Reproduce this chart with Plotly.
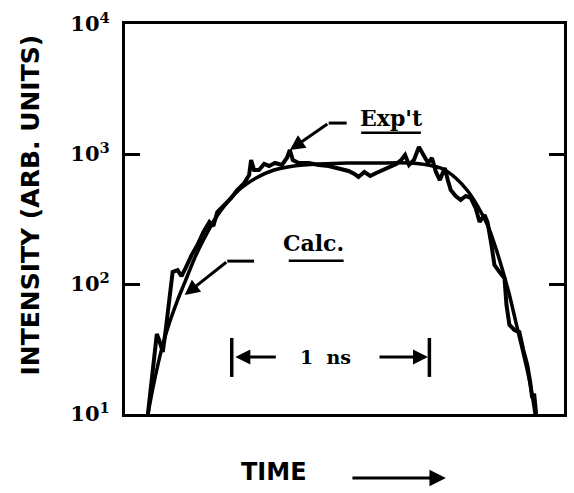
import math
import plotly.graph_objects as go

# Time in ns, intensity in arbitrary units
calc_time = [0.116, 0.141, 0.166, 0.191, 0.226, 0.266, 0.307, 0.352, 0.402, 0.452,
             0.518, 0.588, 0.663, 0.754, 0.854, 0.980, 1.131, 1.281, 1.432, 1.533,
             1.608, 1.673, 1.734, 1.784, 1.834, 1.874, 1.910, 1.945, 1.975, 2.005,
             2.035, 2.060, 2.075]
calc_intensity = [10, 15.8, 23.8, 34.0, 51.0, 75.3, 107, 158, 226, 311,
                  427, 548, 654, 753, 809, 838, 853, 853, 853, 823,
                  767, 654, 519, 398, 284, 193, 128, 82.3, 52.8, 34.0,
                  21.8, 14.0, 10]

expt_time = [0.116, 0.136, 0.161, 0.176, 0.191, 0.206, 0.226, 0.241, 0.266, 0.286,
             0.307, 0.337, 0.367, 0.397, 0.427, 0.447, 0.467, 0.503, 0.538, 0.568,
             0.603, 0.628, 0.638, 0.653, 0.678, 0.704, 0.729, 0.759, 0.794, 0.819,
             0.834, 0.849, 0.879, 0.930, 0.980, 1.030, 1.080, 1.131, 1.161, 1.181,
             1.211, 1.241, 1.271, 1.307, 1.342, 1.372, 1.397, 1.417, 1.437, 1.462,
             1.487, 1.508, 1.533, 1.553, 1.573, 1.593, 1.618, 1.633, 1.648, 1.673,
             1.698, 1.724, 1.749, 1.774, 1.794, 1.819, 1.834, 1.854, 1.869, 1.894,
             1.920, 1.930, 1.945, 1.970, 1.995, 2.015, 2.035, 2.050, 2.060, 2.070,
             2.080]
expt_intensity = [10, 18.3, 41.2, 35.8, 30.0, 44.3, 75.3, 124, 128, 115,
                  133, 167, 200, 251, 300, 279, 358, 405, 459, 528,
                  598, 689, 899, 753, 753, 838, 809, 853, 823, 932,
                  1073, 899, 853, 853, 823, 809, 780, 740, 702, 666,
                  727, 677, 714, 753, 794, 838, 899, 982, 823, 899,
                  1132, 982, 853, 932, 727, 631, 780, 631, 528, 475,
                  443, 475, 459, 384, 300, 340, 300, 200, 140, 124,
                  111, 68.9, 48.4, 44.3, 42.7, 31.1, 23.8, 17.6, 13.3, 14.3,
                  10]

y_tick_values = [10, 100, 1000, 10000]
y_tick_labels = ["10<sup>1</sup>", "10<sup>2</sup>", "10<sup>3</sup>", "10<sup>4</sup>"]

pulse_start, pulse_end = 0.54, 1.54  # the 1 ns scale bar

fig = go.Figure()
fig.add_trace(go.Scatter(x=calc_time, y=calc_intensity, mode="lines",
                         line=dict(color="black", width=3.5, shape="spline", smoothing=0.6),
                         name="Calc.", showlegend=False))
fig.add_trace(go.Scatter(x=expt_time, y=expt_intensity, mode="lines",
                         line=dict(color="black", width=4),
                         name="Exp't", showlegend=False))

serif = dict(family="DejaVu Serif", color="black", weight="bold")
heavy = dict(family="DejaVu Sans", color="black", weight="bold")
centered = dict(xanchor="center", yanchor="middle")

fig.update_layout(
    width=574, height=493,
    margin=dict(l=125, r=7, t=24, b=79),
    plot_bgcolor="white", paper_bgcolor="white",
    xaxis=dict(range=[0, 2.221], showgrid=False, zeroline=False, showticklabels=False,
               ticks="", showline=True, linecolor="black", linewidth=3, mirror=True),
    yaxis=dict(type="log", range=[1, 4], showgrid=False, zeroline=False,
               tickvals=y_tick_values, ticktext=y_tick_labels,
               ticks="inside", ticklen=15, tickwidth=3, tickcolor="black",
               showline=True, linecolor="black", linewidth=3, mirror="ticks",
               tickfont=dict(size=21, **serif), ticklabelstandoff=8),
)

# Exp't label with underline and elbow arrow to the spike
spike = expt_intensity.index(max(expt_intensity[:40]))
fig.add_annotation(x=0.606, y=0.759, xref="paper", yref="paper", text="Exp't",
                   showarrow=False, font=dict(size=22, **serif), **centered)
fig.add_shape(type="line", xref="paper", yref="paper", x0=0.538, x1=0.674, y0=0.721, y1=0.721,
              line=dict(color="black", width=2.5))
fig.add_shape(type="line", xref="paper", yref="paper", x0=0.464, x1=0.505, y0=0.746, y1=0.746,
              line=dict(color="black", width=3))
fig.add_annotation(x=expt_time[spike], y=math.log10(expt_intensity[spike]), xref="x", yref="y",
                   text="", showarrow=True, ax=39, ay=-27, arrowhead=2, arrowsize=1,
                   arrowwidth=3, arrowcolor="black", standoff=0)

# Calc. label with underline and elbow arrow
fig.add_annotation(x=0.430, y=0.438, xref="paper", yref="paper", text="Calc.",
                   showarrow=False, font=dict(size=22, **serif), **centered)
fig.add_shape(type="line", xref="paper", yref="paper", x0=0.373, x1=0.498, y0=0.393, y1=0.393,
              line=dict(color="black", width=2.5))
fig.add_shape(type="line", xref="paper", yref="paper", x0=0.233, x1=0.294, y0=0.392, y1=0.392,
              line=dict(color="black", width=3))
fig.add_annotation(x=0.136, y=0.305, xref="paper", yref="paper",
                   text="", showarrow=True, ax=43, ay=-34, arrowhead=2, arrowsize=1,
                   arrowwidth=3, arrowcolor="black", standoff=0)

# 1 ns scale bar
for xb in (pulse_start, pulse_end):
    fig.add_shape(type="line", xref="x", yref="paper", x0=xb, x1=xb, y0=0.095, y1=0.195,
                  line=dict(color="black", width=3.5))
fig.add_annotation(x=pulse_start + 0.018, y=0.146, xref="x", yref="paper", text="",
                   showarrow=True, ax=42, ay=0, arrowhead=2, arrowsize=1, arrowwidth=3,
                   arrowcolor="black", standoff=0)
fig.add_annotation(x=pulse_end - 0.007, y=0.146, xref="x", yref="paper", text="",
                   showarrow=True, ax=-50, ay=0, arrowhead=2, arrowsize=1, arrowwidth=3,
                   arrowcolor="black", standoff=0)
fig.add_annotation(x=(pulse_start + pulse_end) / 2 - 0.025, y=0.146, xref="x", yref="paper",
                   text="1  ns", showarrow=False, font=dict(size=19, **serif), **centered)

# Axis titles
fig.add_annotation(x=-0.215, y=0.536, xref="paper", yref="paper",
                   text="INTENSITY (ARB. UNITS)", textangle=-90, showarrow=False,
                   font=dict(size=25, **heavy), **centered)
fig.add_annotation(x=0.339, y=-0.149, xref="paper", yref="paper", text="TIME",
                   showarrow=False, font=dict(size=24, **heavy), **centered)
fig.add_annotation(x=0.731, y=-0.164, xref="paper", yref="paper", text="",
                   showarrow=True, ax=-95, ay=0, arrowhead=2, arrowsize=1.1, arrowwidth=3,
                   arrowcolor="black", standoff=0)

fig.write_html("out.html")
